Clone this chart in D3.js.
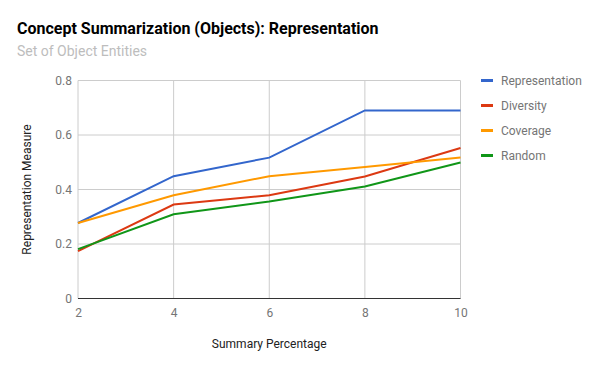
<!DOCTYPE html>
<html>
<head>
  <meta charset="utf-8">
  <title>Concept Summarization</title>
  <script src="https://d3js.org/d3.v7.min.js"></script>
  <style>
    body { margin: 0; background: #fff; }
    text { font-family: Roboto, "Noto Sans", sans-serif; }
  </style>
</head>
<body>
  <div id="chart"></div>
  <script>
    // data
    var percentages = [2, 4, 6, 8, 10];
    var representation = [0.277, 0.449, 0.517, 0.690, 0.690];
    var diversity = [0.174, 0.345, 0.379, 0.448, 0.552];
    var coverage = [0.277, 0.379, 0.449, 0.483, 0.517];
    var random = [0.181, 0.309, 0.356, 0.411, 0.499];
    var seriesNames = ["Representation", "Diversity", "Coverage", "Random"];
    var yTicks = [0, 0.2, 0.4, 0.6, 0.8];

    var series = [
      { name: seriesNames[0], values: representation, color: "#3366cc" },
      { name: seriesNames[1], values: diversity, color: "#dc3912" },
      { name: seriesNames[2], values: coverage, color: "#ff9900" },
      { name: seriesNames[3], values: random, color: "#109618" }
    ];

    var W = 600, H = 371;
    var margin = { top: 80.5, right: 139.5, bottom: 72.5, left: 78 };
    var width = W - margin.left - margin.right;
    var height = H - margin.top - margin.bottom;

    var svg = d3.select("#chart").append("svg")
      .attr("width", W)
      .attr("height", H);

    svg.append("text")
      .attr("x", 17).attr("y", 34)
      .attr("font-size", 16).attr("font-weight", "bold")
      .attr("fill", "#000")
      .text("Concept Summarization (Objects): Representation");

    svg.append("text")
      .attr("x", 17).attr("y", 56)
      .attr("font-size", 14)
      .attr("fill", "#bdbdbd")
      .text("Set of Object Entities");

    var g = svg.append("g")
      .attr("transform", "translate(" + margin.left + "," + margin.top + ")");

    var x = d3.scaleLinear().domain([2, 10]).range([0, width]);
    var y = d3.scaleLinear().domain([0, 0.8]).range([height, 0]);

    // gridlines
    g.append("g")
      .selectAll("line")
      .data(yTicks)
      .join("line")
      .attr("x1", 0).attr("x2", width)
      .attr("y1", function (d) { return y(d); })
      .attr("y2", function (d) { return y(d); })
      .attr("stroke", "#cccccc");

    g.append("g")
      .selectAll("line")
      .data(percentages)
      .join("line")
      .attr("x1", function (d) { return x(d); })
      .attr("x2", function (d) { return x(d); })
      .attr("y1", 0).attr("y2", height)
      .attr("stroke", "#cccccc");

    // y axis labels
    var yAxis = d3.axisLeft(y).tickValues(yTicks).tickSize(0).tickPadding(6)
      .tickFormat(function (d) { return d === 0 ? "0" : d3.format(".1f")(d); });
    var ya = g.append("g").call(yAxis);
    ya.select(".domain").remove();
    ya.selectAll("text")
      .attr("font-size", 12).attr("fill", "#757575")
      .style("font-family", "Roboto, sans-serif");

    // x axis labels
    var xAxis = d3.axisBottom(x).tickValues(percentages).tickSize(0).tickPadding(10);
    var xa = g.append("g")
      .attr("transform", "translate(0," + height + ")")
      .call(xAxis);
    xa.select(".domain").remove();
    xa.selectAll("text")
      .attr("font-size", 12).attr("fill", "#757575")
      .style("font-family", "Roboto, sans-serif");

    // baseline
    g.append("line")
      .attr("x1", 0).attr("x2", width)
      .attr("y1", y(0)).attr("y2", y(0))
      .attr("stroke", "#333333");

    // lines
    var line = d3.line()
      .x(function (d, i) { return x(percentages[i]); })
      .y(function (d) { return y(d); });

    g.selectAll(".series")
      .data(series)
      .join("path")
      .attr("class", "series")
      .attr("d", function (d) { return line(d.values); })
      .attr("fill", "none")
      .attr("stroke", function (d) { return d.color; })
      .attr("stroke-width", 2);

    // axis titles
    svg.append("text")
      .attr("x", margin.left + width / 2).attr("y", 348)
      .attr("text-anchor", "middle")
      .attr("font-size", 12).attr("fill", "#222222")
      .text("Summary Percentage");

    svg.append("text")
      .attr("transform", "translate(31," + (margin.top + height / 2) + ") rotate(-90)")
      .attr("text-anchor", "middle")
      .attr("font-size", 12).attr("fill", "#222222")
      .text("Representation Measure");

    // legend
    var legend = svg.append("g")
      .selectAll("g")
      .data(series)
      .join("g")
      .attr("transform", function (d, i) { return "translate(481," + (80.5 + i * 25) + ")"; });

    legend.append("line")
      .attr("x1", 0).attr("x2", 12)
      .attr("y1", 0).attr("y2", 0)
      .attr("stroke", function (d) { return d.color; })
      .attr("stroke-width", 3);

    legend.append("text")
      .attr("x", 20).attr("y", 0)
      .attr("dy", "0.35em")
      .attr("font-size", 12).attr("fill", "#757575")
      .text(function (d) { return d.name; });
  </script>
</body>
</html>
